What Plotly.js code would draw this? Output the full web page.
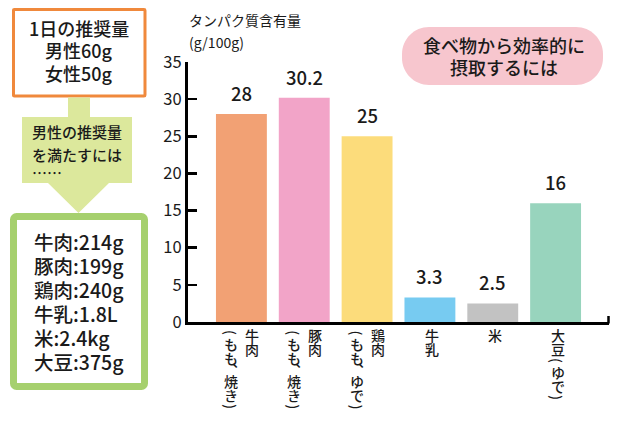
<!DOCTYPE html>
<html><head><meta charset="utf-8">
<script src="https://cdn.plot.ly/plotly-3.0.1.min.js"></script>
<style>html,body{margin:0;padding:0;background:#fff;}#chart{width:619px;height:421px;}</style>
</head><body><div id="chart"></div>
<script>
// ---- data ----
const categories = ["牛肉", "豚肉", "鶏肉", "牛乳", "米", "大豆"];
const labelMain = ["牛肉", "豚肉", "鶏肉", "牛乳", "米", "大豆(ゆで)"];
const labelSub = ["(もも、焼き)", "(もも、焼き)", "(もも、ゆで)", "", "", ""];
const protein = [28, 30.2, 25, 3.3, 2.5, 16];
const valueLabels = ["28", "30.2", "25", "3.3", "2.5", "16"];
const barColors = ["#F2A174", "#F2A4C8", "#FCDC7B", "#77CBF1", "#C2C2C2", "#98D4BD"];
const yTicks = [0, 5, 10, 15, 20, 25, 30, 35];
const yTitleLines = ["タンパク質含有量", "(g/100g)"];
const dailyLines = ["1日の推奨量", "男性60g", "女性50g"];
const arrowLines = ["男性の推奨量", "を満たすには", "……"];
const amountLines = ["牛肉:214g", "豚肉:199g", "鶏肉:240g", "牛乳:1.8L", "米:2.4kg", "大豆:375g"];
const badgeLines = ["食べ物から効率的に", "摂取するには"];

// ---- layout helpers (pixel -> paper) ----
const W = 619, H = 421;
const M = {l: 188, r: 10, t: 62, b: 99};
const PW = W - M.l - M.r, PH = H - M.t - M.b;
const px = p => (p - M.l) / PW;
const py = p => (M.t + PH - p) / PH;
const FONT = '"Noto Sans CJK JP", "Noto Sans", sans-serif';
const INK = '#1a1a1a';
const WT = 500;

function toPath(cmds) {
  return cmds.map(c => {
    const op = c[0];
    if (op === 'Z') return 'Z';
    const nums = [];
    for (let i = 1; i < c.length; i += 2) nums.push(px(c[i]).toFixed(5) + ',' + py(c[i + 1]).toFixed(5));
    return op + nums.join(' ');
  }).join(' ');
}
function roundRect(x0, y0, x1, y1, r) {
  const k = 0.5523 * r;
  return toPath([
    ['M', x0 + r, y0], ['L', x1 - r, y0], ['C', x1 - r + k, y0, x1, y0 + r - k, x1, y0 + r],
    ['L', x1, y1 - r], ['C', x1, y1 - r + k, x1 - r + k, y1, x1 - r, y1],
    ['L', x0 + r, y1], ['C', x0 + r - k, y1, x0, y1 - r + k, x0, y1 - r],
    ['L', x0, y0 + r], ['C', x0, y0 + r - k, x0 + r - k, y0, x0 + r, y0], ['Z']
  ]);
}

const shapes = [];
shapes.push({type: 'path', xref: 'paper', yref: 'paper', path: roundRect(13.5, 9.5, 145, 96, 1),
  fillcolor: '#ffffff', line: {color: '#F0893C', width: 3}});
shapes.push({type: 'path', xref: 'paper', yref: 'paper', line: {width: 0}, fillcolor: '#DCE89C',
  path: toPath([['M', 68, 97.5], ['L', 90, 97.5], ['L', 90, 117], ['L', 132, 117], ['L', 132, 183],
    ['L', 109, 183], ['L', 78.5, 213], ['L', 48, 183], ['L', 22, 183], ['L', 22, 117], ['L', 68, 117], ['Z']])});
shapes.push({type: 'path', xref: 'paper', yref: 'paper', path: roundRect(13.5, 216.5, 144.5, 386.5, 3),
  fillcolor: '#ffffff', line: {color: '#A6D06E', width: 7}});
shapes.push({type: 'path', xref: 'paper', yref: 'paper', path: roundRect(402, 27, 603, 85, 27),
  fillcolor: '#F7C6CE', line: {width: 0}});
shapes.push({type: 'line', xref: 'paper', yref: 'paper', x0: px(608.5), x1: px(608.5), y0: py(323.5), y1: py(316),
  line: {color: '#000', width: 2.5}});

const annotations = [];
function addText(text, x, y, size, opts) {
  annotations.push(Object.assign({text: text, xref: 'paper', yref: 'paper', x: px(x), y: py(y),
    xanchor: 'center', yanchor: 'middle', showarrow: false,
    font: {family: FONT, size: size, color: INK, weight: WT}}, opts || {}));
}
[28, 50, 73].forEach((y, i) => addText(dailyLines[i], 79, y, 18));
[131, 154, 172].forEach((y, i) => addText(arrowLines[i], 30, y, 15, {xanchor: 'left'}));
amountLines.forEach((t, i) => addText(t, 32, 241 + i * 24, 19.5, {xanchor: 'left'}));
addText(badgeLines[0], 504, 45, 18);
addText(badgeLines[1], 504, 67, 18);
addText(yTitleLines[0], 187, 20, 14, {xanchor: 'left', font: {family: FONT, size: 14, color: INK}});
addText(yTitleLines[1], 187, 42, 14, {xanchor: 'left', font: {family: FONT, size: 14, color: INK}});

protein.forEach((v, i) => annotations.push({x: categories[i], y: v, xref: 'x', yref: 'y', text: valueLabels[i],
  showarrow: false, xanchor: 'center', yanchor: 'bottom', yshift: 6,
  font: {family: FONT, size: 18.5, color: INK, weight: WT}}));

const vmap = {'、': '︑'};
function vertical(str, i, dx) {
  let cur = 328;
  for (const ch of str) {
    const half = (ch === '(' || ch === ')' || ch === '、');
    const step = half ? 9 : 14;
    const c = cur + step / 2;
    annotations.push({x: categories[i], y: 0, xref: 'x', yref: 'y', text: vmap[ch] || ch,
      showarrow: false, xanchor: 'center', yanchor: 'middle', xshift: dx, yshift: -(c - (M.t + PH)),
      textangle: (ch === '(' || ch === ')') ? 90 : 0,
      font: {family: FONT, size: 14, color: INK, weight: WT}});
    cur += step;
  }
}
categories.forEach((c, i) => {
  if (labelSub[i]) { vertical(labelMain[i], i, 11); vertical(labelSub[i], i, -10); }
  else vertical(labelMain[i], i, 2);
});

const data = [{type: 'bar', x: categories, y: protein, marker: {color: barColors, line: {width: 0}},
  hoverinfo: 'none', width: 0.81}];

const layout = {
  width: W, height: H, margin: M, paper_bgcolor: '#fff', plot_bgcolor: '#fff', showlegend: false,
  font: {family: FONT, color: INK},
  xaxis: {type: 'category', range: [-0.85, 5.85], showticklabels: false, ticks: '', showgrid: false,
    zeroline: false, showline: true, linecolor: '#000', linewidth: 3, fixedrange: true},
  yaxis: {range: [0, 35], tickvals: yTicks, ticks: 'inside', ticklen: 9, tickwidth: 2.5, tickcolor: '#000',
    showgrid: false, zeroline: false, showline: true, linecolor: '#000', linewidth: 3,
    tickfont: {family: FONT, size: 16.5, color: INK}, fixedrange: true},
  shapes: shapes, annotations: annotations
};
Plotly.newPlot('chart', data, layout, {displayModeBar: false, staticPlot: true});
</script></body></html>
